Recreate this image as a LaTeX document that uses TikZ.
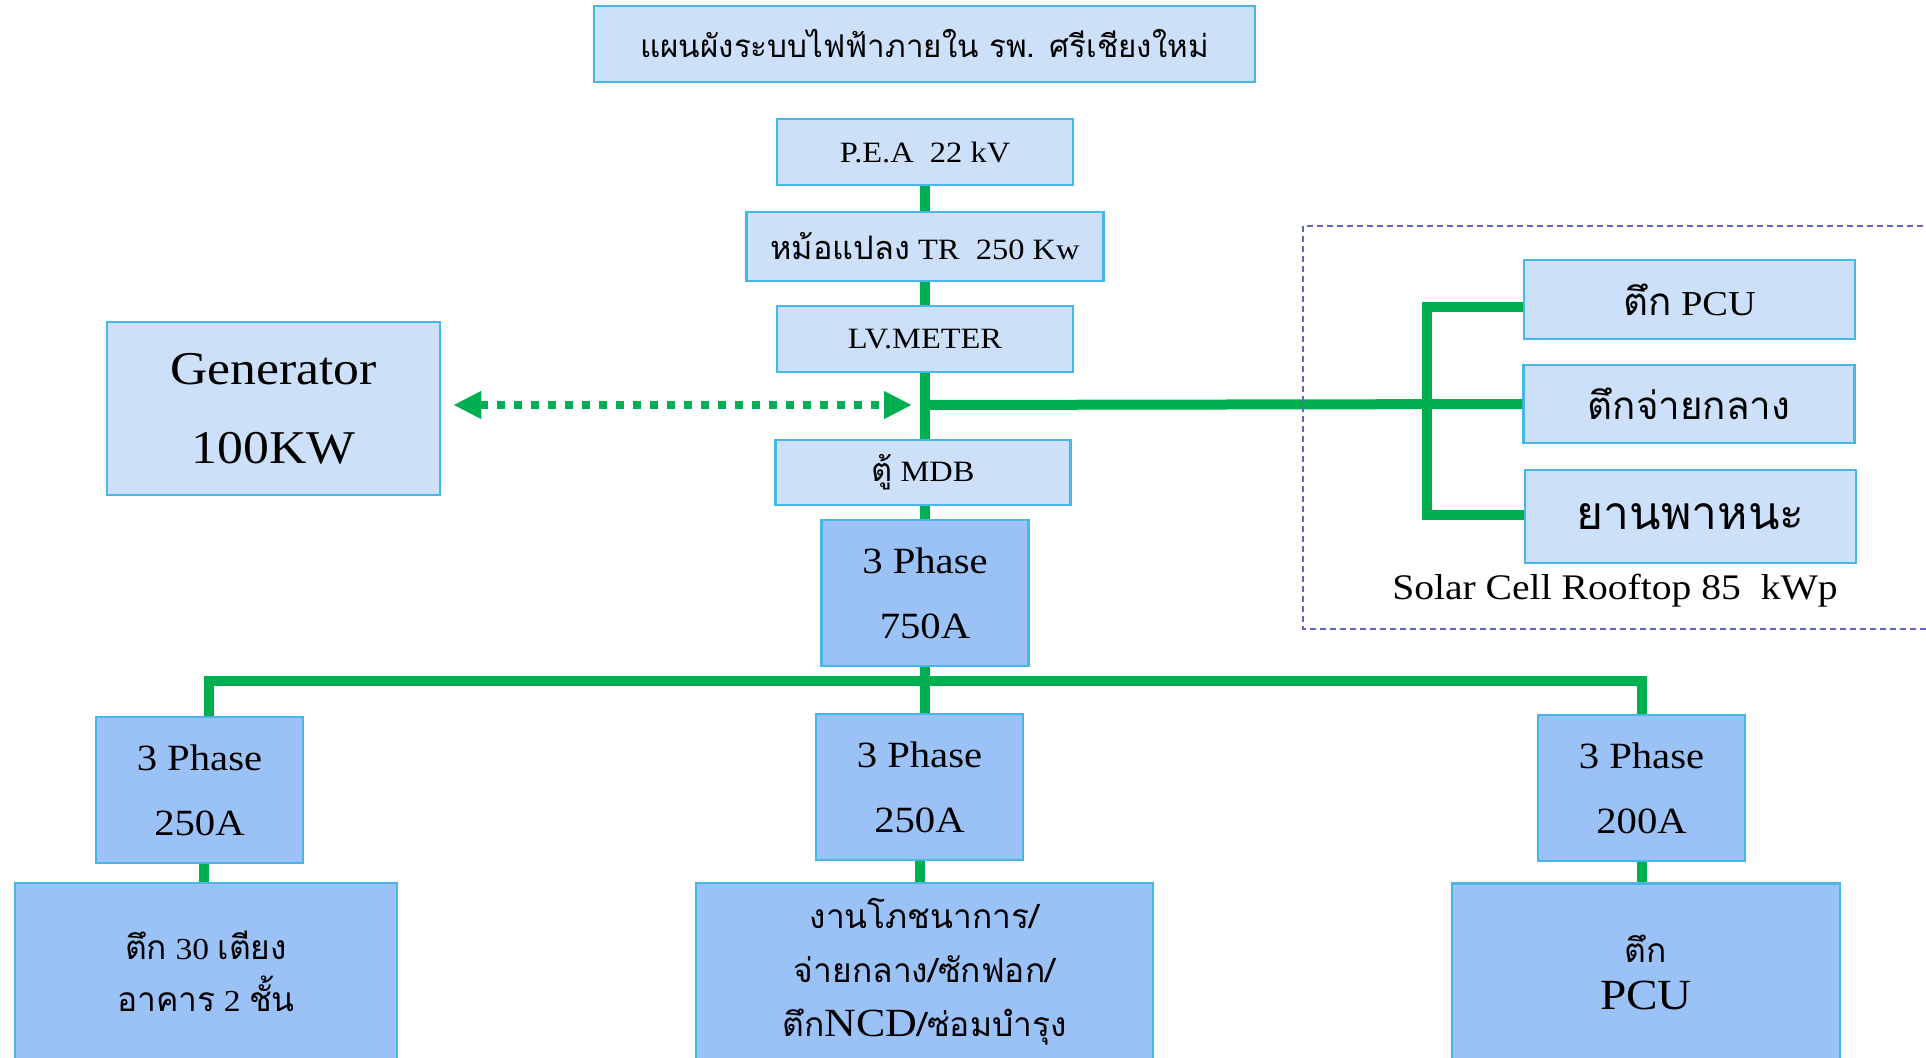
\documentclass[tikz,border=0pt]{standalone}
\usepackage{fontspec}
\setmainfont{Liberation Serif}[FakeStretch=1.1]
\newfontfamily\thaifont[Script=Thai,Scale=1.1]{Loma}
\newcommand{\thai}[1]{{\thaifont #1}}
\usepackage{tikz}
\usetikzlibrary{arrows.meta}

\definecolor{boxfill}{RGB}{204,224,250}
\definecolor{phasefill}{RGB}{155,194,247}
\definecolor{boxline}{RGB}{72,182,230}
\definecolor{wiregreen}{RGB}{0,176,80}
\definecolor{framepurple}{RGB}{100,100,200}

\tikzset{
  unit/.style={draw=boxline, line width=2.5pt, fill=boxfill, inner sep=0pt, align=center},
  feeder/.style={unit, minimum width=296pt, minimum height=66pt, font=\fontsize{29.5}{34}\selectfont},
  phase/.style={unit, fill=phasefill, minimum width=207pt, minimum height=146pt, font=\fontsize{37}{65}\selectfont},
  load/.style={unit, fill=phasefill, minimum height=177pt, font=\fontsize{30.5}{52}\selectfont},
  roof/.style={unit, minimum width=331pt, font=\fontsize{35}{40}\selectfont},
  wire/.style={draw=wiregreen, line width=10pt},
  genlink/.style={draw=wiregreen, line width=8pt, dash pattern=on 8pt off 9pt,
    {Triangle[length=28pt,width=26pt]}-{Triangle[length=28pt,width=26pt]}}
}

\begin{document}
\begin{tikzpicture}[x=1pt, y=-1pt]
  \useasboundingbox (0,0) rectangle (1926,1057);
  \clip (0,0) rectangle (1926,1057);

  % Title
  \node[unit, minimum width=661pt, minimum height=76pt, font=\fontsize{28.5}{34}\selectfont] (title) at (924.5,44)
    {\thai{แผนผังระบบไฟฟ้าภายใน รพ. ศรีเชียงใหม่}};

  % Supply chain
  \node[feeder] (pea) at (925,152) {P.E.A~~22 kV};
  \node[feeder, minimum width=357pt, minimum height=69pt] (tr) at (925,246.5) {\thai{หม้อแปลง} TR~~250 Kw};
  \node[feeder] (lv) at (925,339) {LV.METER};
  \node[feeder, minimum width=295pt, minimum height=65pt] (mdb) at (923,472.5) {\thai{ตู้} MDB};
  \node[phase] (main) at (925,593) {3 Phase\\750A};

  % Generator
  \node[unit, minimum width=333pt, minimum height=173pt, font=\fontsize{47}{79}\selectfont] (gen) at (273.5,408.5)
    {Generator\\100KW};

  % Solar rooftop
  \node[roof, minimum height=79pt] (pcu) at (1689.5,299.5) {\thai{ตึก} PCU};
  \node[roof, minimum height=78pt] (jai) at (1689,404) {\thai{ตึกจ่ายกลาง}};
  \node[roof, minimum height=93pt, font=\fontsize{42}{46}\selectfont] (yan) at (1690.5,516.5) {\thai{ยานพาหนะ}};
  \node[font=\fontsize{36}{40}\selectfont] (solar) at (1615,591) {Solar Cell Rooftop 85~~kWp};

  % Sub boards
  \node[phase] (left3) at (199.5,790) {3 Phase\\250A};
  \node[phase] (mid3) at (919.5,787) {3 Phase\\250A};
  \node[phase] (right3) at (1641.5,788) {3 Phase\\200A};

  % Loads
  \node[load, minimum width=382pt] (ward) at (206,971.5) {\thai{ตึก} 30 \thai{เตียง}\\\thai{อาคาร} 2 \thai{ชั้น}};
  \node[load, minimum width=457pt, font=\fontsize{30.5}{54}\selectfont] (service) at (924.5,971.5)
    {\thai{งานโภชนาการ/}\\\thai{จ่ายกลาง/ซักฟอก/}\\\thai{ตึก}{\fontsize{40}{54}\selectfont NCD}\thai{/ซ่อมบำรุง}};
  \node[load, minimum width=388pt, font=\fontsize{30.5}{47}\selectfont] (pcuload) at (1646,972)
    {\thai{ตึก}\\{\fontsize{43}{47}\selectfont PCU}};

  % Wiring
  \coordinate (tap) at (925,405);
  \coordinate (sbus) at (1427,405);
  \coordinate (bus) at (925,681);
  \draw[wire] (pea) -- (tr);
  \draw[wire] (tr) -- (lv);
  \draw[wire] (lv) -- (lv |- mdb.north);
  \draw[wire] (mdb.south -| main) -- (main);
  \draw[wire] (main) -- (main |- mid3.north);
  \draw[wire] (left3.north) ++(9,0) |- (bus) -| (right3.north);
  \draw[wire] (tap) -- (jai.west);
  \draw[wire] ([yshift=-7pt]pcu.west) -| (sbus) |- ([yshift=2pt]yan.west);
  \draw[wire] (ward.north -| 204,0) -- (left3.south -| 204,0);
  \draw[wire] (mid3) -- (mid3 |- service.north);
  \draw[wire] (right3) -- (right3 |- pcuload.north);

  % Generator link
  \draw[genlink, shorten <=12pt, shorten >=13pt] (gen.east |- tap) -- (tap);

  % Solar frame
  \draw[framepurple, line width=2pt, dash pattern=on 6pt off 4pt] (1303,226) rectangle (1940,629);
\end{tikzpicture}
\end{document}
